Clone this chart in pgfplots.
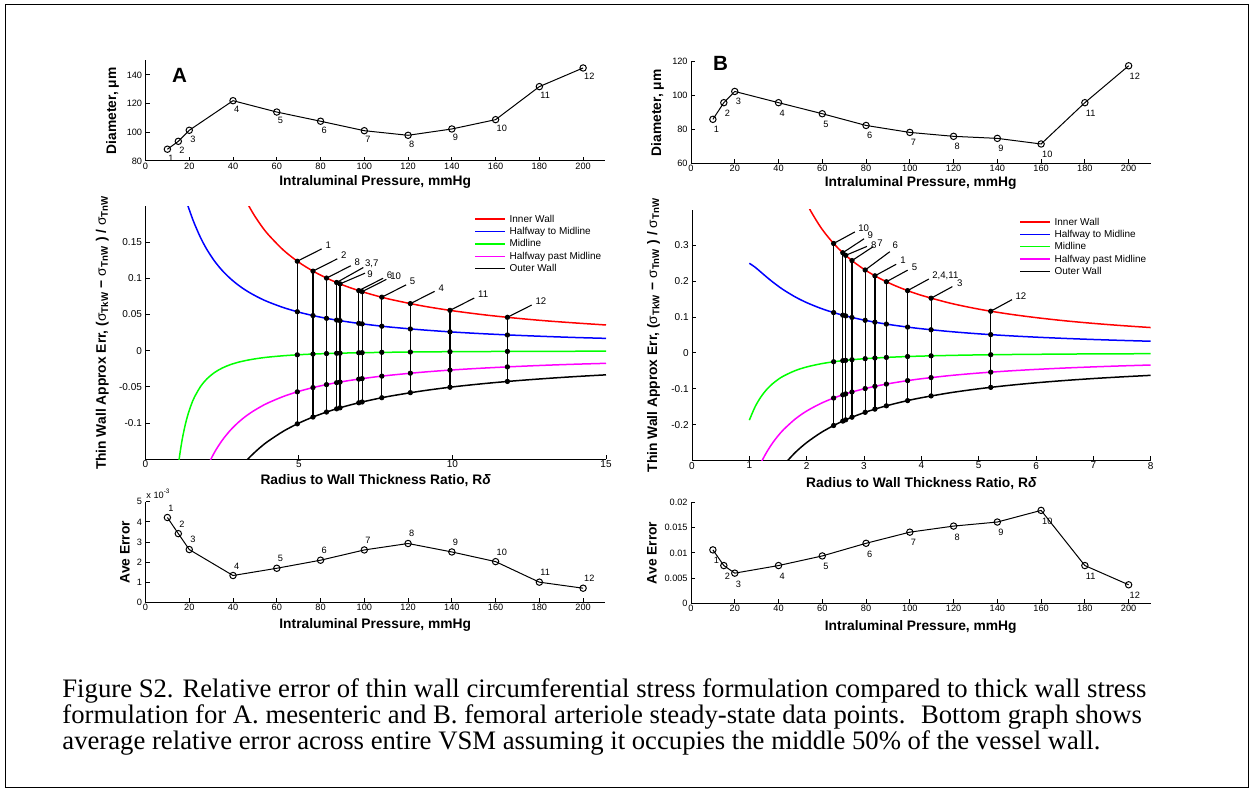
\documentclass[border=0pt]{standalone}
\usepackage{fontspec}
\setmainfont{Liberation Sans}
\newfontfamily\capfont{Liberation Serif}
\usepackage{pgfplots}
\pgfplotsset{compat=1.18}
\usepackage{pgfplotstable}

\definecolor{cred}{rgb}{1,0,0}
\definecolor{cblue}{rgb}{0,0,1}
\definecolor{cgreen}{rgb}{0,1,0}
\definecolor{cmag}{rgb}{1,0,1}

\newcommand\tk{\fontsize{4.6}{5.5}\selectfont}
\newcommand\tkm{\fontsize{5}{6}\selectfont}
\newcommand\lb{\bfseries\fontsize{6.9}{8}\selectfont}

% curve values against R/delta
\pgfplotstableread{
x r b g m k
1 1.5 0.25 -0.1875 -0.39 -0.5
1.1 1.2121 0.2391 -0.1503 -0.3442 -0.4545
1.2 1.0119 0.2256 -0.1230 -0.3074 -0.4167
1.3 0.8654 0.2119 -0.1024 -0.2774 -0.3846
1.4 0.7540 0.1988 -0.0866 -0.2524 -0.3571
1.5 0.6667 0.1867 -0.0741 -0.2313 -0.3333
1.6 0.5966 0.1755 -0.0641 -0.2133 -0.3125
1.8 0.4915 0.1562 -0.0493 -0.1843 -0.2778
2 0.4167 0.1403 -0.0391 -0.1620 -0.25
2.25 0.3492 0.1241 -0.0302 -0.1406 -0.2222
2.5 0.3 0.1111 -0.0240 -0.1240 -0.2
2.75 0.2626 0.1005 -0.0195 -0.1108 -0.1818
3 0.2333 0.0916 -0.0162 -0.1001 -0.1667
3.25 0.2098 0.0841 -0.0137 -0.0912 -0.1538
3.5 0.1905 0.0778 -0.0117 -0.0838 -0.1429
3.75 0.1744 0.0723 -0.0101 -0.0775 -0.1333
4 0.1607 0.0675 -0.0088 -0.0720 -0.125
4.5 0.1389 0.0596 -0.0069 -0.0631 -0.1111
5 0.1222 0.0533 -0.0055 -0.0561 -0.1
5.5 0.1091 0.0482 -0.0045 -0.0505 -0.0909
6 0.0985 0.0440 -0.0038 -0.0459 -0.0833
6.5 0.0897 0.0405 -0.0032 -0.0421 -0.0769
7 0.0824 0.0375 -0.0027 -0.0389 -0.0714
7.5 0.0762 0.0349 -0.0024 -0.0361 -0.0667
8 0.0708 0.0326 -0.0021 -0.0337 -0.0625
9 0.0621 0.0289 -0.0016 -0.0297 -0.0556
10 0.0553 0.0259 -0.0013 -0.0265 -0.05
11 0.0498 0.0235 -0.0011 -0.0240 -0.0455
12 0.0453 0.0215 -0.0009 -0.0219 -0.0417
13 0.0415 0.0198 -0.0008 -0.0201 -0.0385
14 0.0384 0.0183 -0.0007 -0.0186 -0.0357
15 0.0356 0.0171 -0.0006 -0.0174 -0.0333
}\curves

% data points; du dv = leader line (data units), sx sy = label shift (pt)
\pgfplotstableread{
x r b g m k lbl du dv sx sy
4.95 0.1237 0.0539 -0.0056 -0.0568 -0.1010 1 0.791 0.0170 13.9 7.85
5.46 0.1100 0.0486 -0.0046 -0.0509 -0.0916 2 0.791 0.0170 13.9 7.85
5.90 0.1004 0.0448 -0.0039 -0.0468 -0.0847 8 0.791 0.0170 13.9 7.85
6.23 0.0943 0.0423 -0.0035 -0.0441 -0.0803 3,7 0.869 0.0207 14 9.5
6.34 0.0924 0.0416 -0.0034 -0.0433 -0.0789 9 0.814 0.0148 13.5 5
6.95 0.0831 0.0378 -0.0028 -0.0392 -0.0719 6 0.791 0.0170 13.9 7.85
7.06 0.0816 0.0371 -0.0027 -0.0385 -0.0708 10 0.791 0.0170 13.9 7.85
7.70 0.0740 0.0339 -0.0022 -0.0351 -0.0649 5 0.791 0.0170 13.9 7.85
8.63 0.0651 0.0301 -0.0018 -0.0310 -0.0579 4 0.791 0.0170 13.9 7.85
9.92 0.0558 0.0261 -0.0013 -0.0268 -0.0504 11 0.791 0.0170 13.9 7.85
11.79 0.0462 0.0218 -0.0009 -0.0223 -0.0424 12 0.791 0.0170 13.9 7.85
}\ptsA

\pgfplotstableread{
x r b g m k lbl du dv sx sy
2.47 0.3052 0.1125 -0.0246 -0.1258 -0.2024 10 0.371 0.0323 12.15 7.65
2.63 0.2794 0.1053 -0.0215 -0.1168 -0.1901 9 0.371 0.0390 12.15 8.9
2.68 0.2721 0.1032 -0.0207 -0.1142 -0.1866 8 0.371 0.0250 12.5 5.2
2.79 0.2575 0.0989 -0.0189 -0.1089 -0.1792 7 0.371 0.0390 12.5 8.7
3.02 0.2313 0.0910 -0.0160 -0.0993 -0.1656 6 0.430 0.0510 13.5 12.5
3.19 0.2150 0.0858 -0.0142 -0.0932 -0.1567 1 0.371 0.0323 12.5 7.65
3.39 0.1985 0.0804 -0.0125 -0.0869 -0.1475 5 0.371 0.0323 12.5 7.4
3.76 0.1738 0.0721 -0.0100 -0.0772 -0.1330 2,4,11 0.371 0.0323 12.2 7.65
4.17 0.1526 0.0646 -0.0081 -0.0687 -0.1199 3 0.371 0.0323 12.8 7.65
5.21 0.1163 0.0511 -0.0050 -0.0536 -0.0960 12 0.371 0.0323 12.2 7.3
}\ptsB

\pgfplotstableread{
p d e lbl
10 88.2 4.22 1
15 93.7 3.42 2
20 101.4 2.63 3
40 122.0 1.34 4
60 114.1 1.70 5
80 107.7 2.10 6
100 101.1 2.61 7
120 97.9 2.93 8
140 102.3 2.51 9
160 108.8 2.03 10
180 131.8 1.01 11
200 144.8 0.71 12
}\presA

\pgfplotstableread{
p d e lbl
10 86.1 0.0106 1
15 95.9 0.0075 2
20 102.5 0.0060 3
40 95.9 0.0075 4
60 89.4 0.0094 5
80 82.5 0.0119 6
100 78.4 0.0141 7
120 76.1 0.0153 8
140 74.9 0.0161 9
160 71.6 0.0184 10
180 95.9 0.0075 11
200 117.6 0.0037 12
}\presB

\pgfplotsset{
  base/.style={
    scale only axis, anchor=south west,
    axis x line*=bottom, axis y line*=left,
    tick align=inside, major tick length=2.2pt,
    axis line style={line width=0.5pt},
    every tick/.style={black, line width=0.5pt},
    /pgf/number format/assume math mode=true,
    tick label style={font=\tk},
    xticklabel style={inner sep=0.6pt},
    yticklabel style={inner sep=1.5pt},
    label style={font=\lb},
    xlabel style={at={(axis description cs:0.5,0)}, anchor=center},
    ylabel style={at={(axis description cs:0,0.5)}, anchor=center},
  },
  pres/.style={xmin=0, xmax=210, xtick={0,20,...,200}, xlabel={Intraluminal Pressure, mmHg}},
  dline/.style={black, line width=0.5pt, mark=o, mark size=1.6pt,
    nodes near coords, point meta=explicit symbolic,
    every node near coord/.append style={inner sep=0pt, font=\tk, black}},
  mid/.style={
    tick label style={font=\tkm},
    scaled y ticks=false,
    yticklabel style={/pgf/number format/fixed, /pgf/number format/precision=2},
    xlabel={Radius to Wall Thickness Ratio, R\textit{δ}},
    ylabel={Thin Wall Approx Err, ({\mdseries σ}\textsubscript{TkW} − {\mdseries σ}\textsubscript{TnW} ) / {\mdseries σ}\textsubscript{TnW}},
    legend cell align=left,
    legend style={draw=none, fill=none, inner sep=0pt, anchor=north west, font=\tkm,
      row sep=1.37pt, column sep=1.8pt,
      nodes={inner sep=0pt, text height=3.7pt, text depth=1.1pt}},
    legend image code/.code={\draw[##1, line width=0.8pt] (0pt,0.2pt) -- (15pt,0.2pt);},
  },
  crv/.style={line width=0.75pt, smooth},
  dots/.style={only marks, mark=*, mark size=1.1pt, black, forget plot},
  vlines/.style={draw=none, mark=none, forget plot,
    error bars/.cd, y dir=plus, y explicit, error mark=none,
    error bar style={draw=black, line width=0.6pt}},
  leaders/.style={black, line width=0.55pt, mark=none, forget plot,
    quiver={u=\thisrow{du}, v=\thisrow{dv}}},
  tags/.style={draw=none, mark=none, forget plot,
    nodes near coords, point meta=explicit symbolic,
    visualization depends on={\thisrow{sx} \as \sx},
    visualization depends on={\thisrow{sy} \as \sy},
    every node near coord/.append style={anchor=west, inner sep=0pt, black,
      font=\fontsize{4.8}{5.5}\selectfont, xshift=\sx pt, yshift=\sy pt}},
}

\begin{document}
\begin{tikzpicture}[x=0.5pt,y=-0.5pt]
\useasboundingbox (0,0) rectangle (1253,792);
\draw[line width=0.5pt] (5,5) rectangle (1248,787);

% ---------- A top
\begin{axis}[base, pres, at={(72.75pt,-80.5pt)}, width=229.75pt, height=50.25pt,
  ymin=80, ymax=150, ytick={80,100,120,140}, ylabel={Diameter, μm},
  ylabel style={yshift=16.5pt}, xlabel style={yshift=-10.3pt}]
\addplot[dline, every node near coord/.append style={anchor=north west, xshift=0.3pt, yshift=-2.5pt}]
  table[x=p, y=d, meta=lbl] {\presA};
\end{axis}

% ---------- B top
\begin{axis}[base, pres, at={(345.5pt,-81.85pt)}, width=229.75pt, height=51pt,
  ymin=60, ymax=120, ytick={60,80,100,120}, ylabel={Diameter, μm},
  ylabel style={yshift=16.7pt}, xlabel style={yshift=-9.7pt}]
\addplot[dline, every node near coord/.append style={anchor=north west, xshift=0.3pt, yshift=-3.3pt}]
  table[x=p, y=d, meta=lbl] {\presB};
\end{axis}

% ---------- A middle
\begin{axis}[base, mid, at={(72.65pt,-229.65pt)}, width=230.35pt, height=126.65pt,
  xmin=0, xmax=15, ymin=-0.15, ymax=0.2, xtick={0,5,10,15},
  ytick={-0.1,-0.05,0,0.05,0.1,0.15},
  ylabel style={yshift=21.5pt}, xlabel style={yshift=-10.7pt},
  legend style={at={(axis description cs:0.7135,0.9665)}}]
\addplot[crv, cred] table[x=x, y=r] {\curves}; \addlegendentry{Inner Wall}
\addplot[crv, cblue] table[x=x, y=b] {\curves}; \addlegendentry{Halfway to Midline}
\addplot[crv, cgreen] table[x=x, y=g] {\curves}; \addlegendentry{Midline}
\addplot[crv, cmag] table[x=x, y=m] {\curves}; \addlegendentry{Halfway past Midline}
\addplot[crv, black] table[x=x, y=k] {\curves}; \addlegendentry{Outer Wall}
\addplot[vlines] table[x=x, y=k, y error expr=\thisrow{r}-\thisrow{k}] {\ptsA};
\pgfplotsinvokeforeach{r,b,g,m,k}{\addplot[dots] table[x=x, y=#1] {\ptsA};}
\addplot[leaders] table[x=x, y=r] {\ptsA};
\addplot[tags] table[x=x, y=r, meta=lbl] {\ptsA};
\end{axis}

% ---------- B middle
\begin{axis}[base, mid, at={(346pt,-230.25pt)}, width=229.35pt, height=125.5pt,
  xmin=0, xmax=8, ymin=-0.3, ymax=0.4, xtick={0,1,...,8},
  ytick={-0.2,-0.1,0,0.1,0.2,0.3},
  ylabel style={yshift=19.2pt}, xlabel style={yshift=-11.5pt},
  legend style={at={(axis description cs:0.7129,0.9693)}}]
\addplot[crv, cred, restrict x to domain=1:8] table[x=x, y=r] {\curves}; \addlegendentry{Inner Wall}
\addplot[crv, cblue, restrict x to domain=1:8] table[x=x, y=b] {\curves}; \addlegendentry{Halfway to Midline}
\addplot[crv, cgreen, restrict x to domain=1:8] table[x=x, y=g] {\curves}; \addlegendentry{Midline}
\addplot[crv, cmag, restrict x to domain=1:8] table[x=x, y=m] {\curves}; \addlegendentry{Halfway past Midline}
\addplot[crv, black, restrict x to domain=1:8] table[x=x, y=k] {\curves}; \addlegendentry{Outer Wall}
\addplot[vlines] table[x=x, y=k, y error expr=\thisrow{r}-\thisrow{k}] {\ptsB};
\pgfplotsinvokeforeach{r,b,g,m,k}{\addplot[dots] table[x=x, y=#1] {\ptsB};}
\addplot[leaders] table[x=x, y=r] {\ptsB};
\addplot[tags] table[x=x, y=r, meta=lbl] {\ptsB};
\end{axis}

% ---------- A bottom (values in units of 1e-3)
\begin{axis}[base, pres, at={(72.75pt,-301.25pt)}, width=229.75pt, height=50.35pt,
  ymin=0, ymax=5, ytick={0,1,...,5}, ylabel={Ave Error},
  ylabel style={yshift=10.3pt}, xlabel style={yshift=-11.2pt}]
\addplot[dline, every node near coord/.append style={anchor=south west, xshift=0.3pt, yshift=3pt}]
  table[x=p, y=e, meta=lbl] {\presA};
\end{axis}
\node[anchor=base west, inner sep=0pt, font=\tk] at (146,498) {x 10\textsuperscript{-3}};

% ---------- B bottom
\begin{axis}[base, pres, at={(345.5pt,-301.75pt)}, width=229.75pt, height=50.6pt,
  ymin=0, ymax=0.02, ytick={0,0.005,0.01,0.015,0.02}, scaled y ticks=false,
  yticklabel style={/pgf/number format/fixed, /pgf/number format/precision=3},
  ylabel={Ave Error},
  ylabel style={yshift=19.5pt}, xlabel style={yshift=-11.6pt}]
\addplot[dline, every node near coord/.append style={anchor=north west, xshift=0.3pt, yshift=-3.5pt}]
  table[x=p, y=e, meta=lbl] {\presB};
\end{axis}

\node[inner sep=0pt, font=\bfseries\fontsize{10.3}{12}\selectfont] at (179.6,75.8) {A};
\node[inner sep=0pt, font=\bfseries\fontsize{10.3}{12}\selectfont] at (720.5,63.7) {B};

\begin{scope}[every node/.style={anchor=base west, inner sep=0pt, font=\capfont\fontsize{13.35}{15}\selectfont}]
\node at (62,697) {Figure S2. Relative error of thin wall circumferential stress formulation compared to thick wall stress};
\node at (62,723) {formulation for A. mesenteric and B. femoral arteriole steady-state data points.~ Bottom graph shows};
\node at (62,749) {average relative error across entire VSM assuming it occupies the middle 50\% of the vessel wall.};
\end{scope}
\end{tikzpicture}
\end{document}
